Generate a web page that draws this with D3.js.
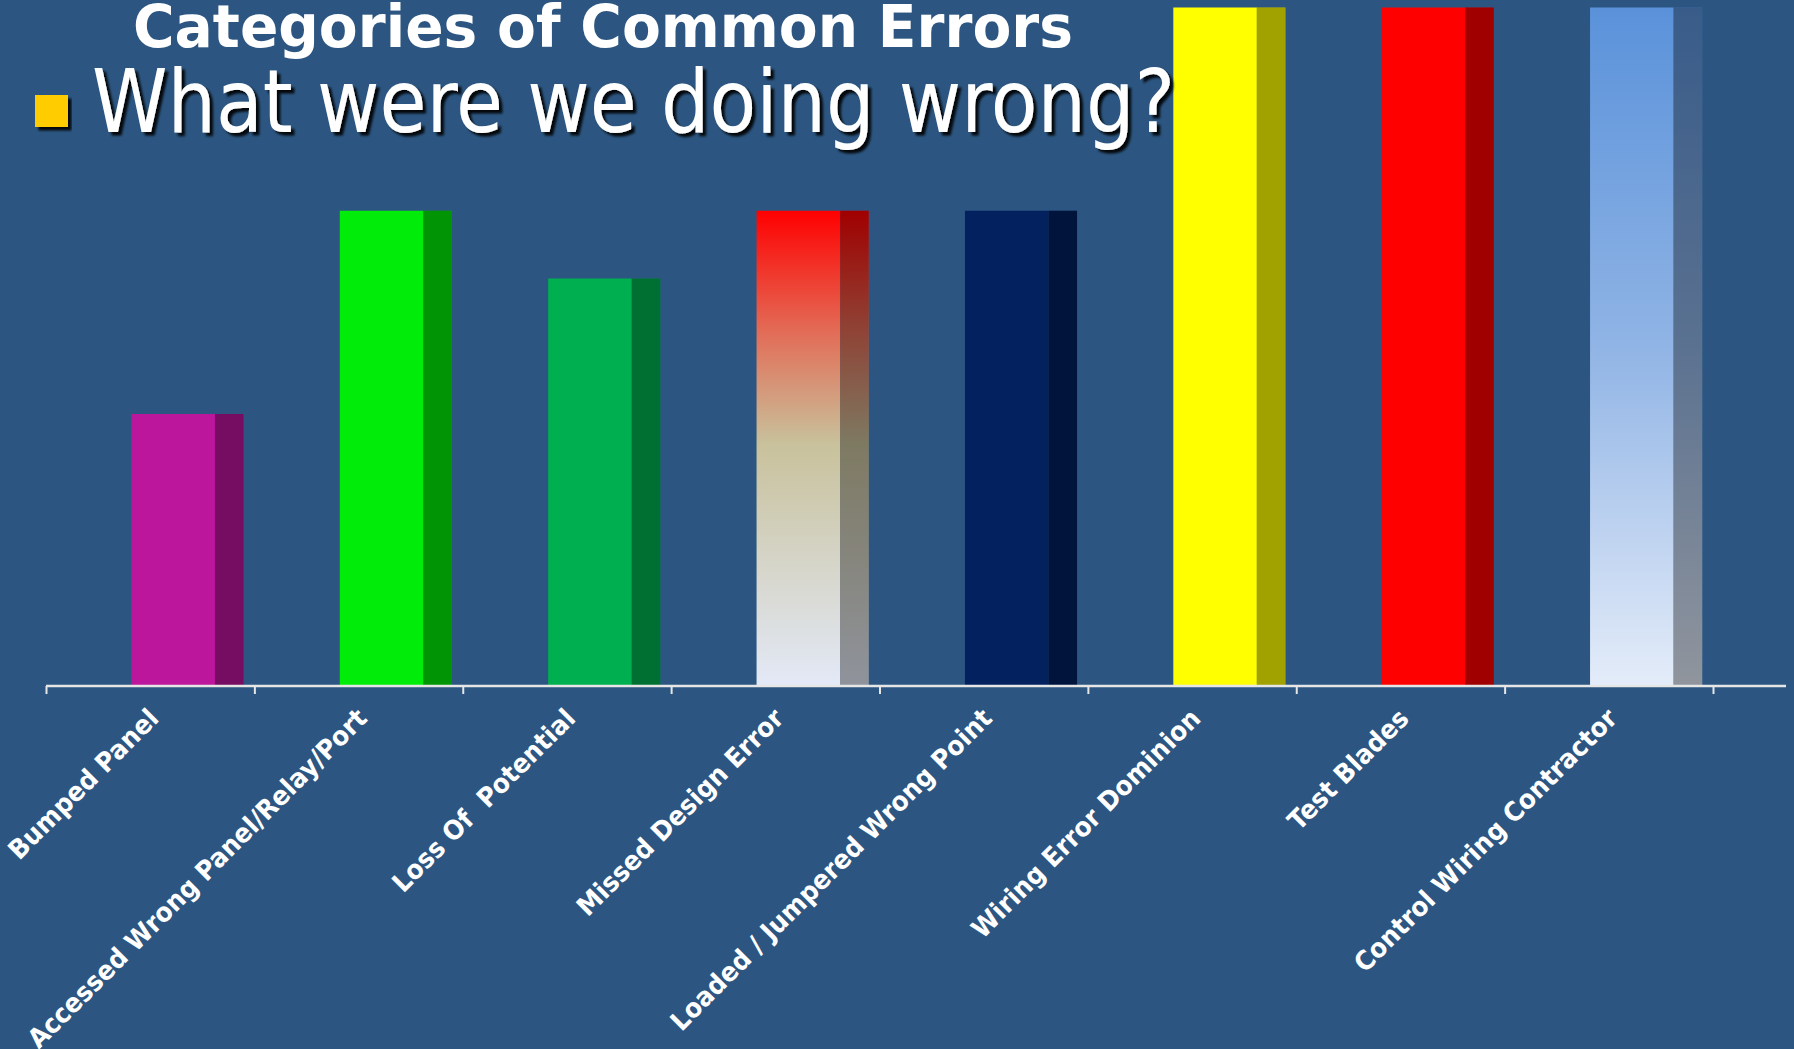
<!DOCTYPE html>
<html>
<head>
<meta charset="utf-8">
<script src="https://cdn.jsdelivr.net/npm/d3@7"></script>
<style>
  body { margin: 0; background: #2C5681; }
  svg { display: block; }
</style>
</head>
<body>
<script>
// chart data
const categories = [
  'Bumped Panel',
  'Accessed Wrong Panel/Relay/Port',
  'Loss Of  Potential',
  'Missed Design Error',
  'Loaded / Jumpered Wrong Point',
  'Wiring Error Dominion',
  'Test Blades',
  'Control Wiring Contractor'
];
const counts = [4, 7, 6, 7, 7, 10, 10, 10];
const barFills = ['#BC169C', '#02EC0A', '#00B050', 'url(#gradDesign)', '#03215F', '#FFFF00', '#FF0000', 'url(#gradBlue)'];

const width = 1794;
const height = 1049;
const baseY = 685;

const svg = d3.select('body').append('svg')
  .attr('width', width)
  .attr('height', height);

svg.append('rect')
  .attr('width', width)
  .attr('height', height)
  .attr('fill', '#2C5681');

const defs = svg.append('defs');

const gDesign = defs.append('linearGradient')
  .attr('id', 'gradDesign')
  .attr('x1', 0).attr('y1', 0).attr('x2', 0).attr('y2', 1);
gDesign.append('stop').attr('offset', '0%').attr('stop-color', '#FF0000');
gDesign.append('stop').attr('offset', '25%').attr('stop-color', '#E36A55');
gDesign.append('stop').attr('offset', '49%').attr('stop-color', '#C8C19B');
gDesign.append('stop').attr('offset', '100%').attr('stop-color', '#E3E9F7');

const gBlue = defs.append('linearGradient')
  .attr('id', 'gradBlue')
  .attr('x1', 0).attr('y1', 0).attr('x2', 0).attr('y2', 1);
gBlue.append('stop').attr('offset', '0%').attr('stop-color', '#5A92DA');
gBlue.append('stop').attr('offset', '50%').attr('stop-color', '#90B4E5');
gBlue.append('stop').attr('offset', '100%').attr('stop-color', '#E4ECF9');

const shadow = defs.append('filter')
  .attr('id', 'shadow')
  .attr('x', '-5%').attr('y', '-20%')
  .attr('width', '115%').attr('height', '150%');
shadow.append('feDropShadow')
  .attr('dx', 3.5).attr('dy', 3.5)
  .attr('stdDeviation', 1.2)
  .attr('flood-color', '#000')
  .attr('flood-opacity', 0.9);

const x = d3.scaleBand()
  .domain(categories)
  .range([46, 1713])
  .padding(0);
const y = d3.scaleLinear()
  .domain([0, 10])
  .range([baseY, 7.5]);

const bw = x.bandwidth();
const frontW = bw * 0.401;
const sideW = bw * 0.137;

const bars = svg.append('g')
  .selectAll('g')
  .data(categories)
  .enter().append('g')
  .attr('transform', d => `translate(${x(d) + bw * 0.41},0)`);

// front face
bars.append('rect')
  .attr('x', 0)
  .attr('y', (d, i) => y(counts[i]))
  .attr('width', frontW)
  .attr('height', (d, i) => baseY - y(counts[i]))
  .attr('fill', (d, i) => barFills[i]);

// side face, same fill darkened
bars.append('rect')
  .attr('x', frontW)
  .attr('y', (d, i) => y(counts[i]))
  .attr('width', sideW)
  .attr('height', (d, i) => baseY - y(counts[i]))
  .attr('fill', (d, i) => barFills[i]);
bars.append('rect')
  .attr('x', frontW)
  .attr('y', (d, i) => y(counts[i]))
  .attr('width', sideW)
  .attr('height', (d, i) => baseY - y(counts[i]))
  .attr('fill', '#000')
  .attr('opacity', 0.37);

// axis
const tickScale = d3.scaleLinear().domain([0, categories.length]).range([46, 1713]);
const axis = svg.append('g')
  .attr('transform', `translate(0,${baseY + 1})`)
  .call(d3.axisBottom(tickScale)
    .tickValues(d3.range(categories.length + 1))
    .tickSize(8)
    .tickSizeOuter(0)
    .tickFormat(''));
axis.select('.domain').remove();
axis.selectAll('.tick line')
  .attr('stroke', '#E6E6E6')
  .attr('stroke-width', 2);
axis.append('line')
  .attr('x1', 46).attr('x2', 1786)
  .attr('y1', 0).attr('y2', 0)
  .attr('stroke', '#E6E6E6')
  .attr('stroke-width', 2.5);

svg.append('g')
  .selectAll('text')
  .data(categories)
  .enter().append('text')
  .attr('transform', d => `translate(${x(d) + bw / 2 + 10},720) rotate(-45) scale(0.93,1)`)
  .attr('text-anchor', 'end')
  .style('white-space', 'pre')
  .attr('font-family', 'DejaVu Sans, Verdana, sans-serif')
  .attr('font-weight', 'bold')
  .attr('font-size', 26.5)
  .attr('fill', '#FFFFFF')
  .text(d => d);

// titles
svg.append('text')
  .attr('x', 133)
  .attr('y', 46.5)
  .attr('textLength', 940)
  .attr('lengthAdjust', 'spacingAndGlyphs')
  .attr('font-family', 'DejaVu Sans, Verdana, sans-serif')
  .attr('font-weight', 'bold')
  .attr('font-size', 58)
  .attr('fill', '#FFFFFF')
  .text('Categories of Common Errors');

svg.append('rect')
  .attr('x', 35).attr('y', 95)
  .attr('width', 33).attr('height', 32)
  .attr('fill', '#FFCC00')
  .attr('filter', 'url(#shadow)');

svg.append('text')
  .attr('x', 92)
  .attr('y', 131.5)
  .attr('textLength', 1083)
  .attr('lengthAdjust', 'spacingAndGlyphs')
  .attr('font-family', 'DejaVu Sans, Verdana, sans-serif')
  .attr('font-size', 87)
  .attr('fill', '#FFFFFF')
  .attr('filter', 'url(#shadow)')
  .text('What were we doing wrong?');
</script>
</body>
</html>
